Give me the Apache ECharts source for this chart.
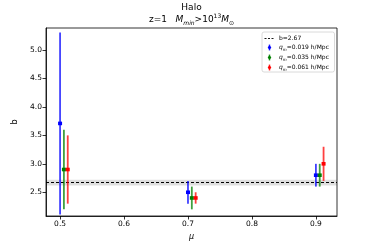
<!DOCTYPE html>
<html>
<head>
<meta charset="utf-8">
<script src="https://cdn.jsdelivr.net/npm/echarts@6/dist/echarts.min.js"></script>
<style>html,body{margin:0;padding:0;background:#fff}#c{width:374px;height:249px}</style>
</head>
<body>
<div id="c"></div>
<script>
// Data
const muBlue = [0.5, 0.7, 0.9];
const muGreen = [0.506, 0.706, 0.906];
const muRed = [0.512, 0.712, 0.912];
const bBlue = [3.71, 2.50, 2.80];
const errBlue = [1.60, 0.20, 0.20];
const bGreen = [2.90, 2.40, 2.80];
const errGreen = [0.70, 0.20, 0.20];
const bRed = [2.90, 2.40, 3.00];
const errRed = [0.60, 0.10, 0.30];
const bFit = 2.67;
const bFitErr = 0.05;
const xTicks = [0.5, 0.6, 0.7, 0.8, 0.9];
const yTicks = [2.5, 3.0, 3.5, 4.0, 4.5, 5.0];
const seriesNames = ['0.019', '0.035', '0.061'];
const seriesColors = ['#0000ff', '#008000', '#ff0000'];

const FONT = 'DejaVu Sans';
const chart = echarts.init(document.getElementById('c'), null, {renderer: 'canvas'});

function errData(mu, b, e) {
  return mu.map((m, i) => [m, b[i], b[i] - e[i], b[i] + e[i]]);
}

function errRender(color) {
  return function (params, api) {
    const x = api.value(0);
    const c = api.coord([x, api.value(1)]);
    const lo = api.coord([x, api.value(2)]);
    const hi = api.coord([x, api.value(3)]);
    return {
      type: 'group',
      children: [
        {type: 'line', shape: {x1: lo[0], y1: lo[1], x2: hi[0], y2: hi[1]},
         style: {stroke: color, lineWidth: 1.8, opacity: 0.75}},
        {type: 'rect', shape: {x: c[0] - 2, y: c[1] - 1.8, width: 4, height: 3.6},
         style: {fill: color}}
      ]
    };
  };
}

const allData = [
  errData(muBlue, bBlue, errBlue),
  errData(muGreen, bGreen, errGreen),
  errData(muRed, bRed, errRed)
];

const series = allData.map((d, i) => ({
  type: 'custom',
  name: seriesNames[i],
  data: d,
  renderItem: errRender(seriesColors[i]),
  encode: {x: 0, y: [1, 2, 3]},
  z: 10 + i
}));

series.push({
  type: 'line',
  data: [],
  markArea: {
    silent: true,
    itemStyle: {color: 'rgba(0,0,0,0.13)'},
    data: [[{yAxis: bFit - bFitErr}, {yAxis: bFit + bFitErr}]]
  },
  markLine: {
    silent: true,
    symbol: 'none',
    label: {show: false},
    lineStyle: {color: '#000', type: [3, 2], width: 1},
    data: [{yAxis: bFit}]
  }
});

// Legend (drawn by hand)
const legX = 262, legY = 32;
const legendChildren = [
  {type: 'rect', shape: {x: legX, y: legY, width: 72.5, height: 40, r: 2},
   style: {fill: '#fff', stroke: '#d0d0d0', lineWidth: 0.8}},
  {type: 'line', shape: {x1: legX + 2.5, y1: legY + 6.5, x2: legX + 13, y2: legY + 6.5},
   style: {stroke: '#000', lineWidth: 0.9, lineDash: [2, 1.5]}},
  {type: 'text', x: legX + 17, y: legY + 6.5,
   style: {text: 'b=2.67', font: '6px ' + FONT, fill: '#000', verticalAlign: 'middle'}}
];
seriesNames.forEach((n, i) => {
  const yy = legY + 15.5 + i * 10;
  legendChildren.push({type: 'line', shape: {x1: legX + 7.5, y1: yy - 3, x2: legX + 7.5, y2: yy + 3},
    style: {stroke: seriesColors[i], lineWidth: 1.5, opacity: 0.75}});
  legendChildren.push({type: 'polygon', shape: {points: [[legX + 7.5, yy - 2.5], [legX + 9.3, yy], [legX + 7.5, yy + 2.5], [legX + 5.7, yy]]},
    style: {fill: seriesColors[i]}});
  legendChildren.push({type: 'text', x: legX + 17, y: yy,
    style: {
      text: '{i|q}{s|m}{n|=' + n + ' h/Mpc}',
      verticalAlign: 'middle',
      rich: {
        i: {font: 'italic 6px ' + FONT, fill: '#000', lineHeight: 8, verticalAlign: 'middle'},
        s: {font: 'italic 4px ' + FONT, fill: '#000', lineHeight: 8, verticalAlign: 'bottom'},
        n: {font: '6px ' + FONT, fill: '#000', lineHeight: 8, verticalAlign: 'middle'}
      }
    }});
});

const option = {
  animation: false,
  backgroundColor: '#fff',
  grid: {left: 46, right: 37, top: 28, bottom: 33, show: true, borderColor: '#000', borderWidth: 0.8, backgroundColor: 'transparent'},
  xAxis: {
    type: 'value', min: 0.478, max: 0.933,
    name: 'μ', nameLocation: 'middle', nameGap: 17,
    nameTextStyle: {fontFamily: FONT, fontSize: 8, fontStyle: 'italic', color: '#000'},
    axisLine: {show: true, onZero: false, lineStyle: {color: '#000', width: 0.8}},
    axisTick: {show: true, length: 3.5, lineStyle: {color: '#000', width: 0.8}, customValues: xTicks},
    axisLabel: {fontFamily: FONT, fontSize: 7.5, color: '#000', margin: 4, customValues: xTicks,
      formatter: v => v.toFixed(1)},
    splitLine: {show: false}
  },
  yAxis: {
    type: 'value', min: 2.083, max: 5.387,
    name: 'b', nameLocation: 'middle', nameGap: 25,
    nameTextStyle: {fontFamily: FONT, fontSize: 8, color: '#000'},
    axisLine: {show: true, onZero: false, lineStyle: {color: '#000', width: 0.8}},
    axisTick: {show: true, length: 3.5, lineStyle: {color: '#000', width: 0.8}, customValues: yTicks},
    axisLabel: {fontFamily: FONT, fontSize: 7.5, color: '#000', margin: 4, customValues: yTicks,
      formatter: v => v.toFixed(1)},
    splitLine: {show: false}
  },
  series: series,
  graphic: [
    {type: 'text', x: 191.5, y: 8, style: {text: 'Halo', font: '9px ' + FONT, fill: '#000', align: 'center', verticalAlign: 'middle'}},
    {type: 'text', x: 191.5, y: 20, style: {
      text: '{n|z=1   }{i|M}{s|min}{n|>10}{p|13}{i|M}{s|⊙}',
      align: 'center', verticalAlign: 'middle',
      rich: {
        n: {font: '9px ' + FONT, fill: '#000', lineHeight: 13, verticalAlign: 'middle'},
        i: {font: 'italic 9px ' + FONT, fill: '#000', lineHeight: 13, verticalAlign: 'middle'},
        s: {font: 'italic 6px ' + FONT, fill: '#000', lineHeight: 13, verticalAlign: 'bottom'},
        p: {font: '6px ' + FONT, fill: '#000', lineHeight: 13, verticalAlign: 'top'}
      }
    }},
    {type: 'group', children: legendChildren, z: 100}
  ]
};
chart.setOption(option);
</script>
</body>
</html>
